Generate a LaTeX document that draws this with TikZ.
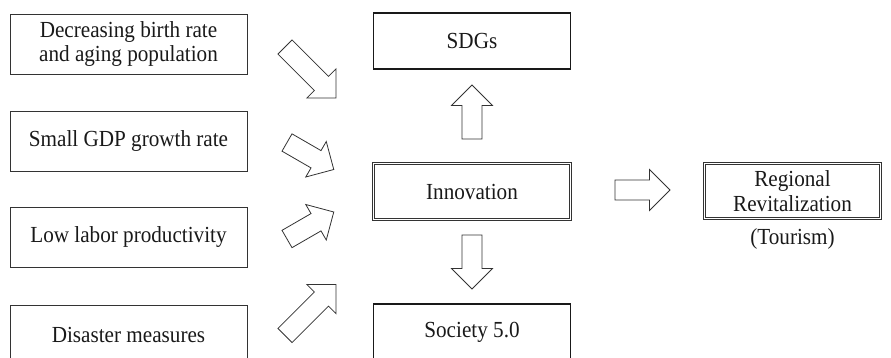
\documentclass[tikz,border=0pt]{standalone}
\usepackage{fontspec}
\setmainfont{Liberation Serif}[FakeStretch=0.92]
\begin{document}
\begin{tikzpicture}[x=1pt,y=-1pt,
  every node/.style={font=\fontsize{23}{24.5}\selectfont, text=black!90, align=center},
  cause/.style={draw=black!80, line width=0.9pt, minimum width=237, minimum height=60, inner sep=0pt},
  goal/.style={draw=black!90, line width=1.7pt, minimum width=197, minimum height=56, inner sep=0pt},
  core/.style={draw=black!80, line width=0.7pt, double, double distance=1.4pt, inner sep=0pt},
  arrowline/.style={draw=black!80, line width=0.8pt, fill=white, line join=miter},
  pics/blockarrow/.style={code={
    \path[arrowline] (0,-10) -- (#1-20.5,-10) -- (#1-20.5,-20.5) -- (#1,0)
      -- (#1-20.5,20.5) -- (#1-20.5,10) -- (0,10) -- cycle;}}
]
\clip (0,0) rectangle (891,358);

% causes on the left
\node[cause] (birth)    at (128.5,44)  {Decreasing birth rate\\and aging population};
\node[cause] (gdp)      at (128.5,141) {Small GDP growth rate};
\node[cause] (labor)    at (128.5,237.5) {Low labor productivity};
\node[cause] (disaster) at (128.5,335) {Disaster measures};

% central column
\node[goal] (sdgs)    at (472,41)    {SDGs};
\node[core, minimum width=197, minimum height=56] (innov) at (472,191.5) {Innovation};
\node[goal] (society) at (472,332)   {Society 5.0};

% right side
\node[core, minimum width=176, minimum height=55] (region) at (792.5,191) {Regional\\Revitalization};
\node (tourism) at (792.5,239) {(Tourism)};

% block arrows
\pic[rotate=-45] at (285,47)    {blockarrow=72};
\pic[rotate=-30] at (287,142.5) {blockarrow=54};
\pic[rotate=30]  at (287,239)   {blockarrow=54};
\pic[rotate=45]  at (285,335.5) {blockarrow=72};
\pic[rotate=90]  at (472,139)   {blockarrow=54};
\pic[rotate=-90] at (472,235)   {blockarrow=54};
\pic             at (615,190)   {blockarrow=55};
\end{tikzpicture}
\end{document}
